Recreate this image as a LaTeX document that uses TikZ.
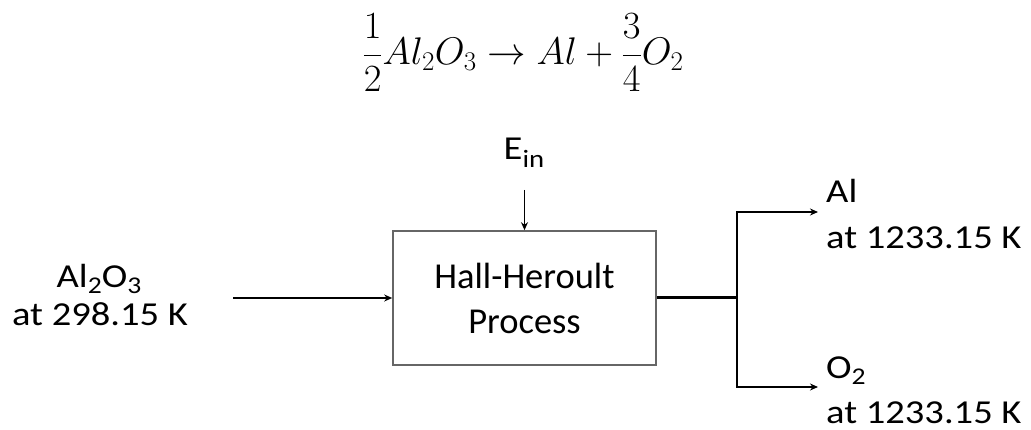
\RequirePackage{fix-cm}
\documentclass[tikz,border=0pt]{standalone}
\usepackage[no-math]{fontspec}
\setmainfont{Carlito}
\newfontfamily\lblfont[FakeStretch=1.15]{Carlito}
\usetikzlibrary{arrows.meta}
\newcommand\lsub[1]{\raisebox{-6pt}{\fontsize{24}{24}\selectfont #1}}
\begin{document}
\begin{tikzpicture}[x=1pt,y=-1pt,
  lbl/.style={font=\lblfont\fontsize{33.5}{40}\selectfont, inner sep=0pt},
  arr/.style={line width=1.6pt, -{Stealth[length=8pt,width=7pt]}},
  procbox/.style={draw=black!60, line width=1.6pt, minimum width=263pt, minimum height=134pt, inner sep=0pt, align=center, font=\fontsize{36.5}{45}\selectfont}]
\useasboundingbox (0,0) rectangle (1031,430);
% equation
\node[inner sep=0pt, anchor=base, font=\fontsize{38.5}{46}\selectfont] (eq) at (523,65)
  {$\displaystyle \frac{1}{2}Al_2O_3 \rightarrow Al + \frac{3}{4}O_2$};
% process box
\node[procbox] (hh) at (524.5,298) {Hall-Heroult\\Process};
% energy input
\node[lbl, anchor=base] (ein) at (524,160) {E\raisebox{-8pt}{\fontsize{25}{25}\selectfont in}};
\coordinate (einS) at (524.5,190);
\draw[arr] (einS) -- (hh.north);
% feed
\node[lbl, anchor=base] (feed1) at (99,288) {Al\lsub{2}O\lsub{3}};
\node[lbl, anchor=base] (feed2) at (100,326) {at 298.15 K};
\coordinate (inS) at (233,298);
\draw[arr] (inS) -- (hh.west);
% products
\coordinate (j) at (737,298);
\draw[line width=3pt] (hh.east) -- (j);
\coordinate (alT) at (818,212);
\coordinate (o2T) at (818,387);
\draw[arr] (j) |- (alT);
\draw[arr] (j) |- (o2T);
\node[lbl, anchor=base west] (al1) at (826,203) {Al};
\node[lbl, anchor=base west] (al2) at (826,249) {at 1233.15 K};
\node[lbl, anchor=base west] (o21) at (826,378) {O\lsub{2}};
\node[lbl, anchor=base west] (o22) at (826,423) {at 1233.15 K};
\end{tikzpicture}
\end{document}
